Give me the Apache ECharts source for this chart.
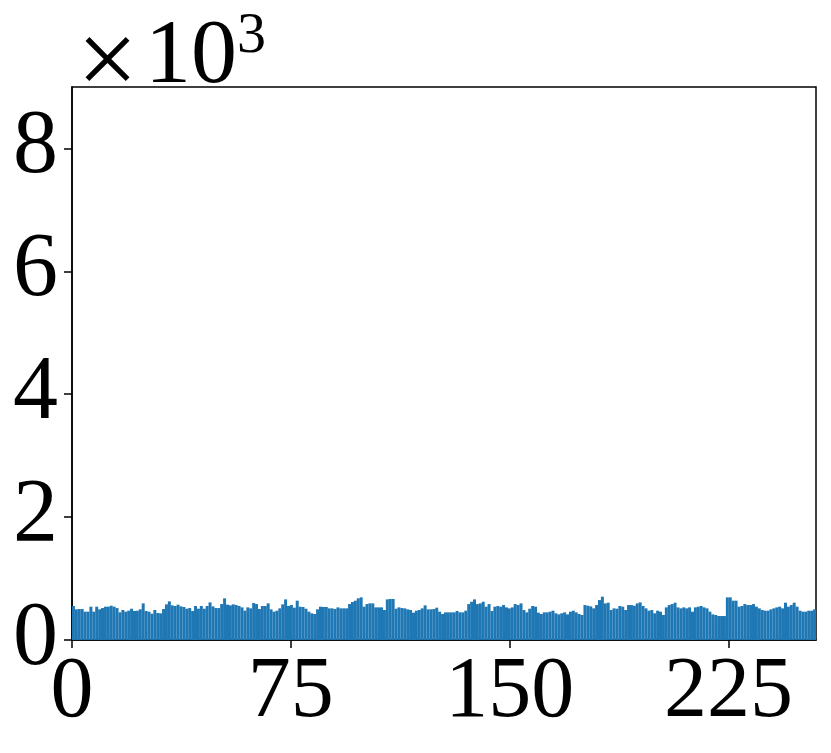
<!DOCTYPE html>
<html>
<head>
<meta charset="utf-8">
<script src="https://cdn.jsdelivr.net/npm/echarts@6/dist/echarts.min.js"></script>
<style>
  html, body { margin: 0; padding: 0; background: #fff; }
  #chart { width: 831px; height: 753px; }
</style>
</head>
<body>
<div id="chart"></div>
<script>
// histogram counts, one per bin (256 bins over 0..255)
const counts = [
  553, 499, 504, 504, 461, 461, 542, 461, 542, 499, 520, 542, 542, 558, 542, 520,
  450, 488, 461, 477, 509, 472, 477, 499, 596, 472, 461, 428, 488, 439, 434, 504,
  580, 629, 564, 553, 575, 547, 537, 509, 520, 472, 553, 509, 553, 509, 553, 612,
  547, 520, 520, 585, 678, 575, 564, 580, 569, 553, 531, 477, 531, 515, 602, 585,
  504, 553, 553, 596, 499, 461, 477, 515, 580, 661, 553, 569, 526, 640, 542, 537,
  509, 461, 434, 423, 499, 542, 537, 537, 515, 515, 504, 531, 515, 515, 515, 585,
  618, 640, 678, 694, 542, 585, 596, 596, 531, 531, 531, 488, 661, 667, 667, 509,
  531, 520, 515, 499, 488, 445, 477, 488, 515, 564, 499, 499, 504, 526, 461, 423,
  450, 450, 450, 450, 472, 450, 450, 477, 585, 623, 661, 585, 596, 623, 542, 585,
  472, 542, 553, 542, 569, 531, 515, 531, 585, 569, 596, 488, 450, 509, 553, 542,
  445, 423, 450, 450, 461, 477, 434, 417, 434, 450, 417, 461, 477, 450, 423, 407,
  569, 558, 547, 515, 569, 650, 705, 596, 607, 488, 515, 509, 553, 542, 488, 569,
  569, 558, 596, 612, 553, 515, 477, 488, 434, 477, 461, 407, 531, 569, 585, 607,
  531, 515, 531, 515, 531, 461, 531, 542, 553, 531, 515, 461, 417, 407, 390, 390,
  390, 694, 694, 640, 640, 542, 553, 585, 569, 569, 585, 542, 515, 488, 477, 477,
  499, 515, 531, 542, 515, 607, 542, 569, 607, 542, 477, 461, 461, 477, 477, 499
];
const xMax = 255;
const xTicks = [0, 75, 150, 225];
const yTicks = [0, 2000, 4000, 6000, 8000];
const yMax = 9000;

const binW = xMax / counts.length;
const barData = counts.map((c, i) => [i * binW + binW / 2, c]);

const font = '"Liberation Serif", "DejaVu Serif", serif';
const chart = echarts.init(document.getElementById('chart'));

const option = {
  animation: false,
  backgroundColor: '#fff',
  title: [
    {
      left: 72, top: 14,
      text: '×',
      textStyle: { fontFamily: font, fontSize: 108, fontWeight: 'normal', color: '#000', lineHeight: 96 }
    },
    {
      left: 140, top: 3,
      text: '{m|10}{s|3}',
      textStyle: {
        fontWeight: 'normal',
        rich: {
          m: { fontFamily: font, fontSize: 92, fontWeight: 'normal', color: '#000', verticalAlign: 'bottom', lineHeight: 96 },
          s: { fontFamily: font, fontSize: 58, fontWeight: 'normal', color: '#000', verticalAlign: 'top', lineHeight: 96, padding: [0, 0, 44, 0] }
        }
      }
    }
  ],
  grid: {
    left: 72, right: 15, top: 87, bottom: 113,
    show: true, borderColor: '#000', borderWidth: 1.5, backgroundColor: '#fff'
  },
  xAxis: {
    type: 'value', min: 0, max: xMax,
    splitLine: { show: false },
    axisLine: { show: true, lineStyle: { color: '#000', width: 1.5 } },
    axisTick: { show: true, length: 8, customValues: xTicks, lineStyle: { color: '#000', width: 1.5 } },
    axisLabel: { customValues: xTicks, margin: 10, fontFamily: font, fontSize: 86, color: '#000' }
  },
  yAxis: {
    type: 'value', min: 0, max: yMax,
    splitLine: { show: false },
    axisLine: { show: true, lineStyle: { color: '#000', width: 1.5 } },
    axisTick: { show: true, length: 8, customValues: yTicks, lineStyle: { color: '#000', width: 1.5 } },
    axisLabel: {
      customValues: yTicks, margin: 14, fontFamily: font, fontSize: 90, color: '#000',
      formatter: v => String(v / 1000)
    }
  },
  series: [{
    type: 'bar',
    data: barData,
    barWidth: 2.98,
    itemStyle: { color: '#1f77b4' }
  }]
};
chart.setOption(option);
</script>
</body>
</html>
